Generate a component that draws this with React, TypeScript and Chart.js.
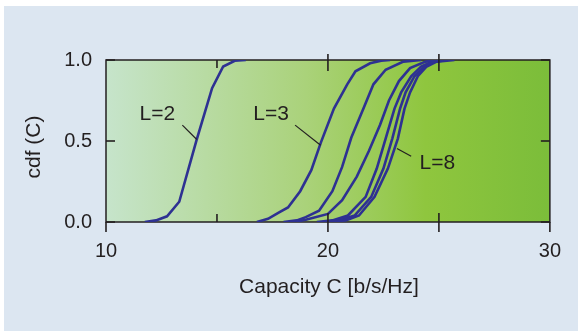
import React, { useEffect, useRef } from "react";
import { Chart, registerables } from "chart.js";

Chart.register(...registerables);

// ---- data ----
const capL2 = [11.75, 12.25, 12.75, 13.3, 14.08, 14.78, 15.28, 15.8, 16.3];
const cdfL2 = [0, 0.01, 0.035, 0.125, 0.506, 0.826, 0.96, 0.995, 1.0];

const capL3 = [16.8, 17.3, 17.8, 18.2, 18.75, 19.25, 19.68, 20.27, 20.87, 21.24, 21.9, 22.4, 22.8];
const cdfL3 = [0, 0.02, 0.06, 0.09, 0.19, 0.32, 0.49, 0.7, 0.85, 0.93, 0.98, 0.996, 1];

const capL4 = [18.0, 18.6, 19.0, 19.6, 20.2, 20.64, 21.05, 21.6, 22.05, 22.6, 23.4, 24.2];
const cdfL4 = [0, 0.01, 0.03, 0.07, 0.19, 0.34, 0.52, 0.7, 0.85, 0.94, 0.99, 1];

const capL5 = [18.5, 19.0, 20.0, 20.64, 21.3, 21.85, 22.35, 22.75, 23.2, 23.7, 24.4, 25.0];
const cdfL5 = [0, 0.014, 0.05, 0.134, 0.28, 0.44, 0.6, 0.75, 0.87, 0.95, 0.99, 1];

const capL6 = [19.5, 20.2, 20.9, 21.7, 22.2, 22.6, 23.0, 23.3, 23.75, 24.2, 24.7, 25.2];
const capL7 = [19.8, 20.5, 21.2, 21.95, 22.5, 22.9, 23.25, 23.5, 23.9, 24.35, 24.8, 25.4];
const capL8 = [20.0, 20.8, 21.4, 22.1, 22.7, 23.15, 23.45, 23.7, 24.05, 24.45, 24.9, 25.7];
const cdfL6to8 = [0, 0.01, 0.04, 0.155, 0.33, 0.515, 0.7, 0.8, 0.9, 0.96, 0.99, 1];

const seriesNames = ["L=2", "L=3", "L=4", "L=5", "L=6", "L=7", "L=8"];
const seriesCaps = [capL2, capL3, capL4, capL5, capL6, capL7, capL8];
const seriesCdfs = [cdfL2, cdfL3, cdfL4, cdfL5, cdfL6to8, cdfL6to8, cdfL6to8];

const xTickValues = [10, 20, 30];
const yTickValues = [0, 0.5, 1];
const xTitle = "Capacity C [b/s/Hz]";
const yTitle = "cdf (C)";

// annotations (in data units)
const labelTexts = ["L=2", "L=3", "L=8"];
const labelC = [12.31, 17.44, 24.93];
const labelCdf = [0.666, 0.666, 0.366];
const leaderFromC = [13.44, 18.52, 23.75];
const leaderFromCdf = [0.598, 0.598, 0.406];
const leaderToC = [14.09, 19.67, 23.11];
const leaderToCdf = [0.509, 0.474, 0.454];

const FONT = "'Liberation Sans', Arial, Helvetica, sans-serif";
const TEXT = "#231f20";
const LINE = "#2e3192";

const decorPlugin = {
  id: "decor",
  beforeDatasetsDraw(chart: any) {
    const { ctx, chartArea: a } = chart;
    ctx.save();
    const g = ctx.createLinearGradient(a.left, 0, a.right, 0);
    g.addColorStop(0, "#c6e4cb");
    g.addColorStop(0.45, "#aad27a");
    g.addColorStop(0.72, "#8fc63e");
    g.addColorStop(1, "#7bbd3a");
    ctx.fillStyle = g;
    ctx.fillRect(a.left, a.top, a.right - a.left, a.bottom - a.top);
    ctx.strokeStyle = "#231f20";
    ctx.lineWidth = 1.5;
    ctx.strokeRect(a.left, a.top, a.right - a.left, a.bottom - a.top);
    ctx.restore();
  },
  afterDatasetsDraw(chart: any) {
    const { ctx, chartArea: a, scales } = chart;
    const xs = scales.x;
    const ys = scales.y;
    ctx.save();
    ctx.strokeStyle = "#231f20";
    ctx.lineWidth = 1.6;
    const seg = (x1: number, y1: number, x2: number, y2: number) => {
      ctx.beginPath();
      ctx.moveTo(x1, y1);
      ctx.lineTo(x2, y2);
      ctx.stroke();
    };
    // x ticks
    [10, 15, 20, 25, 30].forEach((v) => {
      const px = xs.getPixelForValue(v);
      if (v === 10 || v === 30) {
        seg(px, a.bottom, px, a.bottom + 10);
      } else if (v === 15) {
        seg(px, a.bottom, px, a.bottom - 8);
        seg(px, a.top, px, a.top + 8);
      } else {
        seg(px, a.bottom - 9, px, a.bottom + 10);
        seg(px, a.top - 6, px, a.top + 11);
      }
    });
    // y ticks
    [0, 0.5, 1].forEach((v) => {
      const py = ys.getPixelForValue(v);
      seg(a.left, py, a.left + 9, py);
      seg(a.right, py, a.right - 9, py);
    });
    // annotations
    ctx.lineWidth = 1.2;
    ctx.fillStyle = TEXT;
    ctx.font = `21px ${FONT}`;
    ctx.textAlign = "center";
    ctx.textBaseline = "middle";
    labelTexts.forEach((t, i) => {
      ctx.fillText(t, xs.getPixelForValue(labelC[i]), ys.getPixelForValue(labelCdf[i]));
      seg(
        xs.getPixelForValue(leaderFromC[i]),
        ys.getPixelForValue(leaderFromCdf[i]),
        xs.getPixelForValue(leaderToC[i]),
        ys.getPixelForValue(leaderToCdf[i])
      );
    });
    // axis titles
    ctx.fillText(xTitle, (a.left + a.right) / 2 + 1, a.bottom + 65);
    ctx.save();
    ctx.translate(30, (a.top + a.bottom) / 2 + 6);
    ctx.rotate(-Math.PI / 2);
    ctx.fillText(yTitle, 0, 0);
    ctx.restore();
    ctx.restore();
  },
};

export default function App() {
  const ref = useRef<HTMLCanvasElement | null>(null);
  useEffect(() => {
    if (!ref.current) return;
    const chart = new Chart(ref.current, {
      type: "line",
      data: {
        datasets: seriesNames.map((name, i) => ({
          label: name,
          data: seriesCaps[i].map((c, j) => ({ x: c, y: seriesCdfs[i][j] })),
          borderColor: LINE,
          borderWidth: 2.6,
          pointRadius: 0,
          tension: 0,
          fill: false,
        })),
      },
      options: {
        animation: false,
        responsive: false,
        layout: { padding: { top: 54, right: 26, left: 0, bottom: 0 } },
        plugins: { legend: { display: false }, tooltip: { enabled: false } },
        scales: {
          x: {
            type: "linear",
            min: 10,
            max: 30,
            afterFit: (s: any) => {
              s.height = 109;
            },
            afterBuildTicks: (s: any) => {
              s.ticks = xTickValues.map((v) => ({ value: v }));
            },
            grid: { display: false, drawTicks: false },
            border: { display: false },
            ticks: {
              padding: 17,
              color: TEXT,
              font: { size: 20, family: FONT },
              maxRotation: 0,
              callback: (v: any) => String(v),
            },
          },
          y: {
            type: "linear",
            min: 0,
            max: 1,
            afterFit: (s: any) => {
              s.width = 102;
            },
            afterBuildTicks: (s: any) => {
              s.ticks = yTickValues.map((v) => ({ value: v }));
            },
            grid: { display: false, drawTicks: false },
            border: { display: false },
            ticks: {
              padding: 14,
              color: TEXT,
              font: { size: 20, family: FONT },
              callback: (v: any) => Number(v).toFixed(1),
            },
          },
        },
      },
      plugins: [decorPlugin],
    });
    return () => chart.destroy();
  }, []);

  return (
    <div style={{ position: "absolute", left: 0, top: 0, width: 578, height: 331, background: "#ffffff" }}>
      <div style={{ position: "absolute", left: 4, top: 6, width: 574, height: 325, background: "#dce6f1" }}>
        <canvas ref={ref} width={574} height={325} style={{ display: "block", width: 574, height: 325 }} />
      </div>
    </div>
  );
}
